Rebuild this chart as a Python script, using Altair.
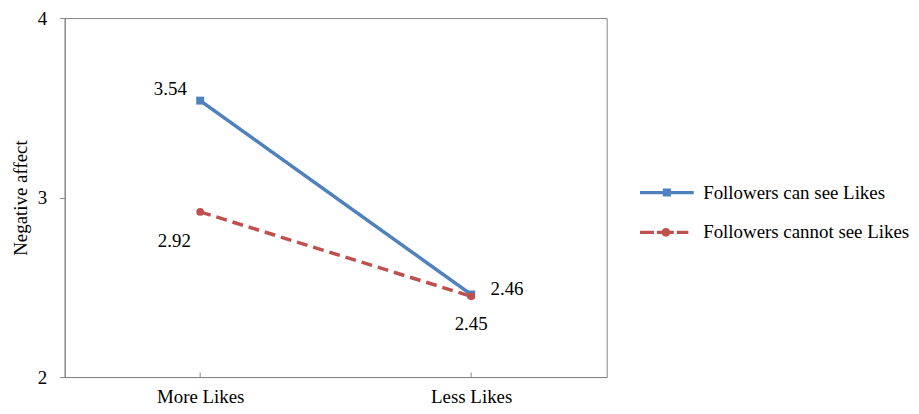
import altair as alt
import pandas as pd

categories = ["More Likes", "Less Likes"]
series_names = ["Followers can see Likes", "Followers cannot see Likes"]
can_see = [3.54, 2.46]
cannot_see = [2.92, 2.45]
y_ticks = [2, 3, 4]
colors = ["#4F81BD", "#C0504D"]

rows = []
for c, v in zip(categories, can_see):
    rows.append({"cat": c, "series": series_names[0], "value": v})
for c, v in zip(categories, cannot_see):
    rows.append({"cat": c, "series": series_names[1], "value": v})
df = pd.DataFrame(rows)

FONT = "Liberation Serif, Times New Roman, serif"
FS = 19
GRAY = "#868686"

def cscale():
    return alt.Scale(domain=series_names, range=colors)

# legend glyphs: line + marker drawn as filled custom paths
blue_glyph = ("M-2,-0.12 L2,-0.12 L2,0.12 L-2,0.12 Z "
              "M-0.3,-0.3 L0.3,-0.3 L0.3,0.3 L-0.3,0.3 Z")
red_glyph = ("M-2,-0.12 L-0.96,-0.12 L-0.96,0.12 L-2,0.12 Z "
             "M-0.74,-0.12 L0.52,-0.12 L0.52,0.12 L-0.74,0.12 Z "
             "M0.74,-0.12 L1.6,-0.12 L1.6,0.12 L0.74,0.12 Z "
             "M-0.4,0 A0.33,0.33 0 1,1 0.26,0 A0.33,0.33 0 1,1 -0.4,0 Z")

x_scale = alt.Scale(type="point", padding=0.5)
x_axis = alt.Axis(title=None, ticks=False, labelPadding=11,
                  labelAngle=0, domainColor=GRAY)
y_scale = alt.Scale(domain=[2, 4], nice=False, zero=False)
y_axis = alt.Axis(values=y_ticks, labelExpr="format(datum.value, '.0f')",
                  title="Negative affect", grid=False, ticks=True,
                  tickSize=5, tickColor=GRAY, domainColor=GRAY,
                  labelPadding=13, titlePadding=7, labelOverlap=False,
                  titleFont=FONT, titleFontSize=FS,
                  titleFontWeight="normal", titleColor="black")

x_enc = alt.X("cat:N", sort=categories, scale=x_scale, axis=x_axis)
y_enc = alt.Y("value:Q", scale=y_scale, axis=y_axis)

base = alt.Chart(df).encode(x=x_enc, y=y_enc)

line = base.mark_line(strokeWidth=3.5).encode(
    color=alt.Color("series:N", scale=cscale(), legend=None),
    strokeDash=alt.StrokeDash("series:N",
                              scale=alt.Scale(domain=series_names, range=[[1, 0], [11, 6]]),
                              legend=None),
)

squares = base.mark_square(size=64, opacity=1).encode(
    color=alt.Color("series:N", scale=cscale(), legend=None)
).transform_filter(alt.datum.series == series_names[0])

circles = base.mark_circle(size=60, opacity=1).encode(
    color=alt.Color("series:N", scale=cscale(), legend=None)
).transform_filter(alt.datum.series == series_names[1])

legend_cfg = alt.Legend(title=None, orient="none", legendX=592, legendY=162,
                        symbolSize=729, symbolStrokeWidth=0, symbolOpacity=1,
                        labelFont=FONT, labelFontSize=FS, labelColor="black",
                        labelOffset=23, rowPadding=16, labelLimit=400, padding=0)

legend_layer = base.mark_point(filled=True, opacity=0).encode(
    color=alt.Color("series:N", scale=cscale(), legend=legend_cfg),
    shape=alt.Shape("series:N", scale=alt.Scale(domain=series_names,
                                                 range=[blue_glyph, red_glyph]),
                    legend=legend_cfg),
)

def label(series, cat, dx, dy):
    return base.mark_text(font=FONT, fontSize=FS, color="black", dx=dx, dy=dy).encode(
        text=alt.Text("value:Q", format=".2f")
    ).transform_filter((alt.datum.series == series) & (alt.datum.cat == cat))

labels = [
    label(series_names[0], categories[0], -30, -12),
    label(series_names[1], categories[0], -26, 29),
    label(series_names[0], categories[1], 36, -5),
    label(series_names[1], categories[1], 0, 28),
]

tick_df = pd.DataFrame({"cat": categories})
xticks = alt.Chart(tick_df).mark_rule(color=GRAY, strokeWidth=1).encode(
    x=alt.X("cat:N", sort=categories, scale=x_scale, axis=x_axis),
    y=alt.YDatum(2, scale=y_scale, axis=y_axis),
    y2=alt.datum(2.025),
)

chart = alt.layer(line, squares, circles, xticks, *labels, legend_layer).resolve_scale(
    color="independent", shape="independent"
).properties(
    width=545, height=361,
    autosize="none",
    padding={"left": 57, "top": 9, "right": 306, "bottom": 30},
).configure_view(stroke=GRAY, strokeWidth=1).configure_axis(
    labelFont=FONT, labelFontSize=FS, labelColor="black"
)

chart.save("out.html", embed_options={"renderer": "svg", "actions": False})
